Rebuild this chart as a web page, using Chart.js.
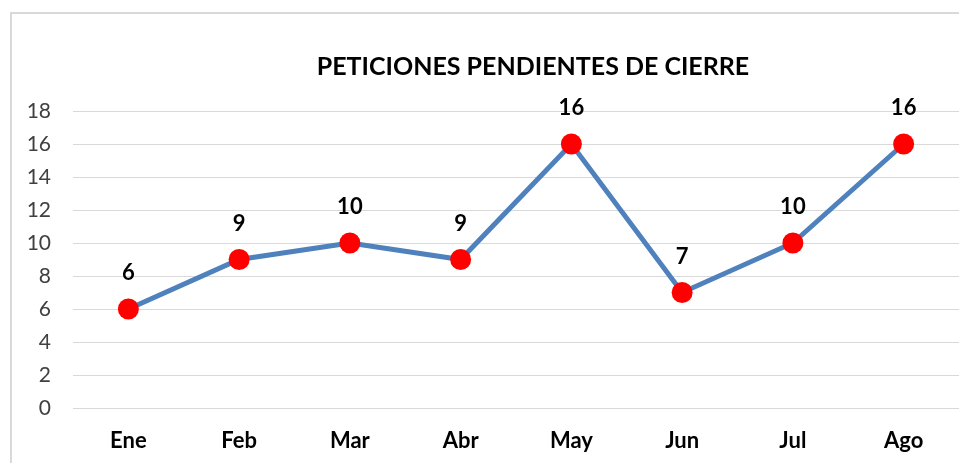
<!DOCTYPE html>
<html>
<head>
<meta charset="utf-8">
<script src="https://cdn.jsdelivr.net/npm/chart.js@4/dist/chart.umd.min.js"></script>
<style>
html,body{margin:0;padding:0;background:#fff;}
#wrap{width:959px;height:463px;position:relative;}
</style>
</head>
<body>
<div id="wrap"><canvas id="c" width="959" height="463"></canvas></div>
<script>
const chartTitle = 'PETICIONES PENDIENTES DE CIERRE';
const categories = ['Ene', 'Feb', 'Mar', 'Abr', 'May', 'Jun', 'Jul', 'Ago'];
const values = [6, 9, 10, 9, 16, 7, 10, 16];
const yMin = 0;
const yMax = 18;
const yStep = 2;

const FONT = 'Lato, "Open Sans", sans-serif';

const frameAndTitle = {
  id: 'frameAndTitle',
  beforeDraw(chart) {
    const ctx = chart.ctx;
    ctx.save();
    ctx.fillStyle = '#ffffff';
    ctx.fillRect(0, 0, chart.width, chart.height);
    ctx.strokeStyle = '#d9d9d9';
    ctx.lineWidth = 2;
    ctx.strokeRect(11, 13, chart.width, chart.height);
    ctx.restore();
  },
  afterDraw(chart) {
    const ctx = chart.ctx;
    ctx.save();
    ctx.font = 'bold 25px ' + FONT;
    ctx.fillStyle = '#000000';
    ctx.textAlign = 'center';
    ctx.textBaseline = 'middle';
    ctx.fillText(chartTitle, 533, 67);
    ctx.restore();
  }
};

const valueLabels = {
  id: 'valueLabels',
  afterDatasetsDraw(chart) {
    const ctx = chart.ctx;
    const meta = chart.getDatasetMeta(0);
    ctx.save();
    ctx.font = 'bold 22px ' + FONT;
    ctx.fillStyle = '#000000';
    ctx.textAlign = 'center';
    ctx.textBaseline = 'middle';
    meta.data.forEach((pt, i) => {
      ctx.fillText(String(values[i]), pt.x, pt.y - 36);
    });
    ctx.restore();
  }
};

new Chart(document.getElementById('c'), {
  type: 'line',
  data: {
    labels: categories,
    datasets: [{
      data: values,
      borderColor: '#4F81BD',
      borderWidth: 5,
      pointRadius: 10.5,
      pointHoverRadius: 10.5,
      pointBackgroundColor: '#ff0000',
      pointBorderColor: '#ff0000',
      pointBorderWidth: 0,
      tension: 0,
      fill: false
    }]
  },
  options: {
    responsive: false,
    animation: false,
    layout: { autoPadding: false, padding: { top: 111, left: 0, right: -2, bottom: 0 } },
    plugins: {
      legend: { display: false },
      title: { display: false },
      tooltip: { enabled: false }
    },
    scales: {
      x: {
        type: 'category',
        offset: true,
        grid: { display: false, drawTicks: false },
        border: { display: false },
        ticks: {
          color: '#000000',
          font: { family: FONT, size: 22, weight: 'bold' },
          padding: 20,
          maxRotation: 0
        },
        afterFit(scale) {
          scale.height = 55;
          scale.paddingLeft = 0;
          scale.paddingRight = 0;
        }
      },
      y: {
        min: yMin,
        max: yMax,
        grid: { color: '#d9d9d9', lineWidth: 1, drawTicks: false },
        border: { display: false },
        ticks: {
          stepSize: yStep,
          color: '#404040',
          font: { family: FONT, size: 21 },
          padding: 22
        },
        afterFit(scale) { scale.width = 73; }
      }
    }
  },
  plugins: [frameAndTitle, valueLabels]
});
</script>
</body>
</html>
